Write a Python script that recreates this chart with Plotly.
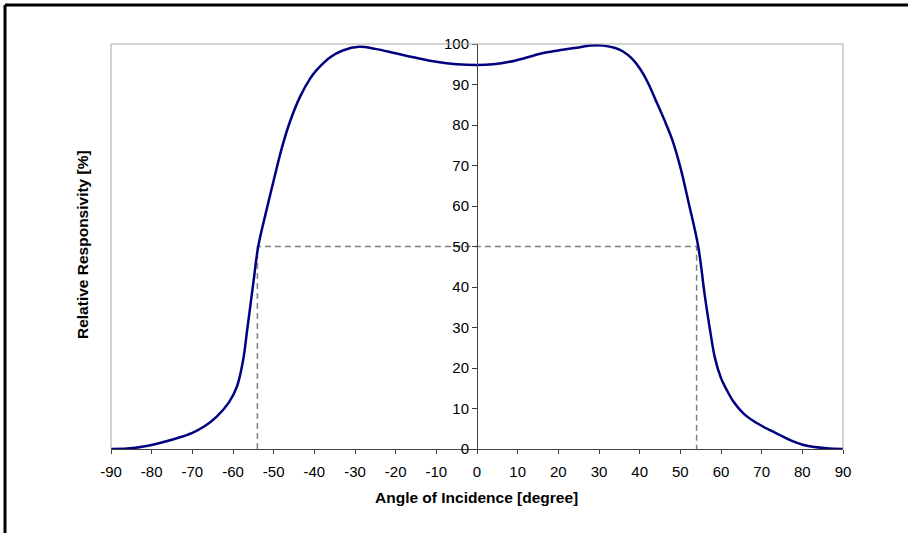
import plotly.graph_objects as go

# Angle of incidence [degree] and relative responsivity [%]
angle = [-90, -86, -82, -78, -74, -70, -67, -64, -61, -59, -57.5, -56.5, -55, -53.8,
         -52, -50, -48, -46, -43.5, -41, -39.4, -36, -33, -29, -25, -20, -15, -10, -5, 0,
         4, 8, 12, 16, 20, 24, 28, 31, 34, 36, 38, 40, 42, 44, 46, 48, 50, 52, 54.4,
         56, 57.3, 58.5, 60, 61.4, 63, 65.5, 68, 70.4, 74, 77, 80.3, 83, 86, 90]
response = [0, 0.1, 0.6, 1.5, 2.6, 4.0, 5.6, 8.0, 11.5, 15.5, 22, 29.5, 41, 50,
            58, 66.3, 74.3, 80.8, 87, 91.5, 93.6, 96.8, 98.4, 99.3, 98.8, 97.7, 96.6, 95.6, 95.0, 94.8,
            95.0, 95.6, 96.6, 97.7, 98.4, 99.0, 99.6, 99.6, 99.0, 98.1, 96.5, 94.0, 90.5, 86.0, 81.4, 76.4, 69.6, 61, 50,
            38, 29.4, 22.5, 17.5, 14.6, 11.8, 8.8, 6.9, 5.5, 3.7, 2.2, 1.0, 0.5, 0.2, 0]

# 50% half-angle guide lines
half_angle = 54
half_level = 50
guide_x = [-half_angle, -half_angle, half_angle, half_angle]
guide_y = [0, half_level, half_level, 0]

x_ticks = list(range(-90, 91, 10))
y_ticks = list(range(0, 101, 10))

W, H = 908, 533
L, R, T, B = 111, 65, 44, 84
pw, ph = W - L - R, H - T - B

def px(x):
    return (x - L) / pw

def py(y):
    return (H - B - y) / ph

fig = go.Figure()
fig.add_trace(go.Scatter(x=guide_x, y=guide_y, mode="lines",
                         line=dict(color="#808080", width=1.5, dash="6px,4px"),
                         hoverinfo="skip", showlegend=False))
fig.add_trace(go.Scatter(x=angle, y=response, mode="lines",
                         line=dict(color="#000080", width=2.5, shape="spline", smoothing=1.0),
                         showlegend=False))

font = dict(family="Liberation Sans, Arial, sans-serif", size=15, color="black")

fig.update_layout(
    width=W, height=H,
    margin=dict(l=L, r=R, t=T, b=B),
    paper_bgcolor="white", plot_bgcolor="white",
    font=font,
    xaxis=dict(range=[-90, 90], tickvals=x_ticks, ticktext=[str(v) for v in x_ticks],
               showgrid=False, zeroline=False, showline=True, linecolor="#404040", linewidth=1,
               ticks="outside", ticklen=4, tickcolor="#404040", tickfont=font,
               ticklabelstandoff=5, domain=[0, 1]),
    yaxis=dict(range=[0, 100], tickvals=y_ticks, ticktext=[str(v) for v in y_ticks],
               showgrid=False, zeroline=False, showline=True, linecolor="#404040", linewidth=1,
               ticks="outside", ticklen=5, tickcolor="#404040", tickfont=font,
               anchor="free", position=0.5),
    shapes=[
        dict(type="line", xref="paper", yref="paper", x0=0, x1=1, y0=1, y1=1,
             line=dict(color="#A6A6A6", width=1)),
        dict(type="line", xref="paper", yref="paper", x0=0, x1=0, y0=0, y1=1,
             line=dict(color="#A6A6A6", width=1)),
        dict(type="line", xref="paper", yref="paper", x0=1, x1=1, y0=0, y1=1,
             line=dict(color="#A6A6A6", width=1)),
        dict(type="line", xref="paper", yref="paper", x0=px(5), x1=px(915), y0=py(5), y1=py(5),
             line=dict(color="black", width=3)),
        dict(type="line", xref="paper", yref="paper", x0=px(5), x1=px(5), y0=py(5), y1=py(540),
             line=dict(color="black", width=3)),
    ],
    annotations=[
        dict(text="<b>Angle of Incidence [degree]</b>", xref="paper", yref="paper",
             x=px(476), y=py(497), showarrow=False, xanchor="center", yanchor="middle",
             font=dict(family="Liberation Sans, Arial, sans-serif", size=15.5, color="black")),
        dict(text="<b>Relative Responsivity [%]</b>", xref="paper", yref="paper",
             x=px(82), y=py(245), showarrow=False, xanchor="center", yanchor="middle",
             textangle=-90,
             font=dict(family="Liberation Sans, Arial, sans-serif", size=15.5, color="black")),
    ],
)

fig.write_html("out.html", config={"displayModeBar": False},
               post_script="document.body.style.margin='0';")
